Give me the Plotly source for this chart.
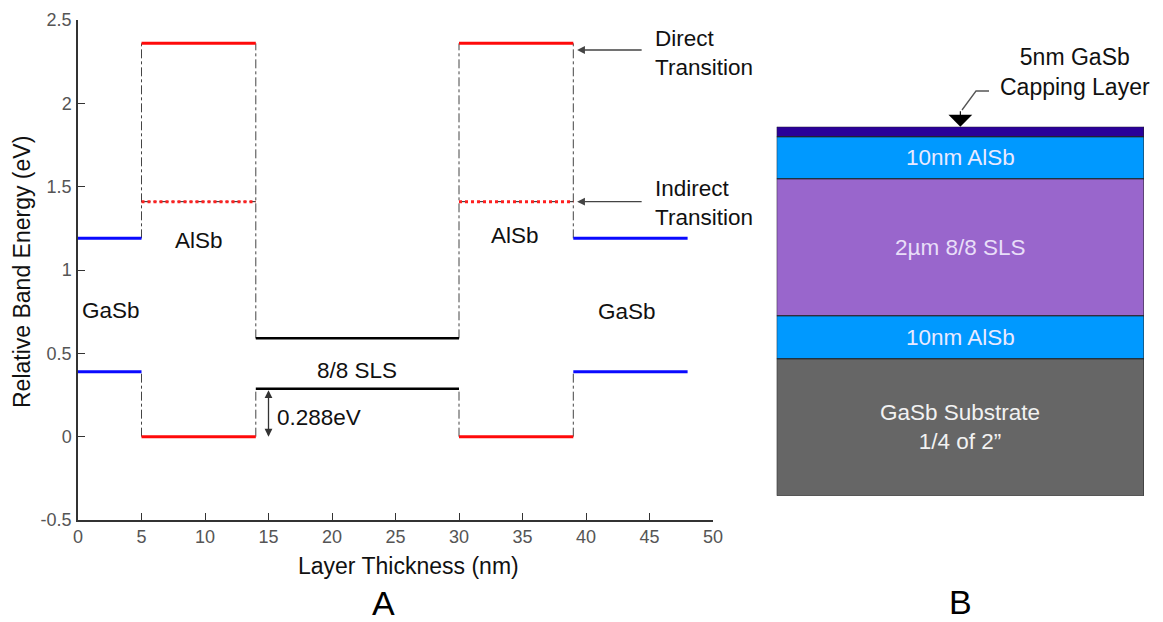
import plotly.graph_objects as go

# ---------------- band-diagram data (panel A) ----------------
region_names = ["GaSb", "AlSb", "8/8 SLS", "AlSb", "GaSb"]
region_edges = [0, 5, 14, 30, 39, 48]          # layer boundaries, nm

gasb_cb = 1.19          # GaSb conduction-band level, eV
gasb_vb = 0.39          # GaSb valence-band level, eV
alsb_direct = 2.36      # AlSb direct transition, eV
alsb_indirect = 1.41    # AlSb indirect transition, eV
alsb_vb = 0.0           # AlSb valence-band level, eV
sls_upper = 0.59        # SLS upper level, eV
sls_lower = 0.288       # SLS lower level, eV

x_ticks = [0, 5, 10, 15, 20, 25, 30, 35, 40, 45, 50]
y_ticks = [-0.5, 0, 0.5, 1, 1.5, 2, 2.5]
y_tick_text = ["-0.5", "0", "0.5", "1", "1.5", "2", "2.5"]

# ---------------- layer-stack data (panel B), bottom to top ----------------
layer_labels = ["GaSb Substrate<br>1/4 of 2\u201d", "10nm AlSb", "2\u00b5m 8/8 SLS", "10nm AlSb", ""]
layer_heights = [137, 43, 137, 42, 10]
layer_colors = ["#666666", "#0099FF", "#9966CC", "#0099FF", "#2A0099"]
layer_text_colors = ["#F2F2F2", "#EAEAFF", "#E8DEF8", "#EAEAFF", "#FFFFFF"]

W, H = 1163, 622
FONT = "Liberation Sans, Arial, sans-serif"


def px(xp):
    return xp / W


def py(yp):
    return 1 - yp / H


fig = go.Figure()


def seg(x0, x1, y0, y1, color, width, dash="solid"):
    fig.add_trace(go.Scatter(x=[x0, x1], y=[y0, y1], mode="lines",
                             line=dict(color=color, width=width, dash=dash),
                             hoverinfo="skip", showlegend=False))


# dash-dot connectors at interfaces
e = region_edges
for xb in (e[1], e[4]):
    seg(xb, xb, gasb_cb, alsb_direct, "#444444", 1, "dashdot")
    seg(xb, xb, alsb_vb, gasb_vb, "#444444", 1, "dashdot")
for xb in (e[2], e[3]):
    seg(xb, xb, sls_upper, alsb_direct, "#444444", 1, "dashdot")
    seg(xb, xb, alsb_vb, sls_lower, "#444444", 1, "dashdot")

# thin guide under indirect levels
for a, b in ((e[1], e[2]), (e[3], e[4])):
    seg(a, b, alsb_indirect, alsb_indirect, "#222222", 1, "dashdot")

# GaSb levels
for a, b in ((e[0], e[1]), (e[4], e[5])):
    seg(a, b, gasb_cb, gasb_cb, "#0A0AFF", 3)
    seg(a, b, gasb_vb, gasb_vb, "#0A0AFF", 3)

# AlSb levels
for a, b in ((e[1], e[2]), (e[3], e[4])):
    seg(a, b, alsb_direct, alsb_direct, "#FF0A0A", 3)
    seg(a, b, alsb_indirect, alsb_indirect, "#FF2020", 3, "dot")
    seg(a, b, alsb_vb, alsb_vb, "#FF0A0A", 3)

# SLS levels
seg(e[2], e[3], sls_upper, sls_upper, "#000000", 2.5)
seg(e[2], e[3], sls_lower, sls_lower, "#000000", 2.5)

# ---------------- panel B layers ----------------
shapes = []
annotations = []
y0 = 0
for lab, h, col, tcol in zip(layer_labels, layer_heights, layer_colors, layer_text_colors):
    shapes.append(dict(type="rect", xref="x2", yref="y2", x0=0, x1=1, y0=y0, y1=y0 + h,
                       fillcolor=col, line=dict(color="#222222", width=1), layer="above"))
    if lab:
        annotations.append(dict(xref="x2", yref="y2", x=0.5, y=y0 + h / 2, text=lab,
                                xanchor="center", yanchor="middle", showarrow=False,
                                font=dict(family=FONT, size=22.5, color=tcol)))
    y0 += h
stack_top = y0

# capping-layer callout
shapes.append(dict(type="path", xref="paper", yref="paper",
                   path=f"M {px(989)} {py(91)} L {px(976)} {py(91)} L {px(962)} {py(110)}",
                   line=dict(color="#555555", width=1.3)))
annotations.append(dict(xref="x2", yref="y2", x=0.5, y=stack_top, ax=0, ay=-17, text="",
                        showarrow=True, arrowhead=1, arrowsize=3.6, arrowwidth=1.1,
                        arrowcolor="#000000"))


def paper_text(xp, yp, text, size, color="#111111", angle=0, pad=1):
    return dict(xref="paper", yref="paper", x=px(xp), y=py(yp), text=text,
                xanchor="center", yanchor="middle", textangle=angle, showarrow=False,
                borderpad=pad, font=dict(family=FONT, size=size, color=color))


annotations.append(paper_text(1075, 72, "5nm GaSb<br>Capping Layer", 23))

# ---------------- panel A labels ----------------
txt = dict(family=FONT, size=22.5, color="#111111")
annotations += [
    dict(x=2.6, y=0.76, text=region_names[0], showarrow=False, font=txt),
    dict(x=9.5, y=1.18, text=region_names[1], showarrow=False, font=txt),
    dict(x=22.0, y=0.40, text=region_names[2], showarrow=False, font=txt),
    dict(x=34.4, y=1.21, text=region_names[3], showarrow=False, font=txt),
    dict(x=43.2, y=0.75, text=region_names[4], showarrow=False, font=txt),
    dict(x=15.5, y=sls_lower / 2 - 0.03, text=f"{sls_lower:.3f}eV", xanchor="left",
         showarrow=False, font=txt),
    dict(x=45.3, y=2.30, text="Direct<br>Transition", xanchor="left", align="left",
         showarrow=False, font=txt),
    dict(x=45.3, y=1.40, text="Indirect<br>Transition", xanchor="left", align="left",
         showarrow=False, font=txt),
    # transition arrows
    dict(x=39.3, y=alsb_direct - 0.04, ax=44.5, ay=alsb_direct - 0.04, axref="x", ayref="y",
         text="", showarrow=True, arrowhead=2, arrowsize=1.2, arrowwidth=1.3, arrowcolor="#444444"),
    dict(x=39.3, y=alsb_indirect, ax=44.5, ay=alsb_indirect, axref="x", ayref="y",
         text="", showarrow=True, arrowhead=2, arrowsize=1.2, arrowwidth=1.3, arrowcolor="#444444"),
    # gap double arrow
    dict(x=15, y=alsb_vb, ax=15, ay=sls_lower, axref="x", ayref="y", text="",
         showarrow=True, arrowhead=2, startarrowhead=2, arrowside="end+start",
         arrowsize=1.2, startarrowsize=1.2, arrowwidth=1.3, arrowcolor="#333333"),
    # axis titles and panel letters
    paper_text(22, 272, "Relative Band Energy (eV)", 23, angle=-90),
    paper_text(408, 566, "Layer Thickness (nm)", 23),
    paper_text(383, 603, "A", 34, "#000000", pad=0),
    paper_text(960, 602, "B", 34, "#000000", pad=0),
]

axis_common = dict(showgrid=False, zeroline=False, showline=True, linecolor="#333333",
                   linewidth=1.5, ticks="inside", ticklen=7, tickwidth=1.3,
                   tickcolor="#333333", automargin=False,
                   tickfont=dict(family=FONT, size=18, color="#555555"))

fig.update_layout(
    width=W, height=H,
    margin=dict(l=0, r=0, t=0, b=0, pad=0),
    paper_bgcolor="white", plot_bgcolor="white",
    showlegend=False,
    xaxis=dict(domain=[px(78), px(713)], range=[0, 50], tickvals=x_ticks,
               anchor="y", ticklabelstandoff=0, **axis_common),
    yaxis=dict(domain=[py(520), py(20)], range=[-0.5, 2.5], tickvals=y_ticks,
               ticktext=y_tick_text, anchor="x", ticklabelstandoff=1, **axis_common),
    xaxis2=dict(domain=[px(776.7), px(1144)], range=[0, 1], visible=False,
                anchor="y2", automargin=False),
    yaxis2=dict(domain=[py(495.7), py(126.7)], range=[0, stack_top], visible=False,
                anchor="x2", automargin=False),
    shapes=shapes,
    annotations=annotations,
)

fig.write_html("out.html")
